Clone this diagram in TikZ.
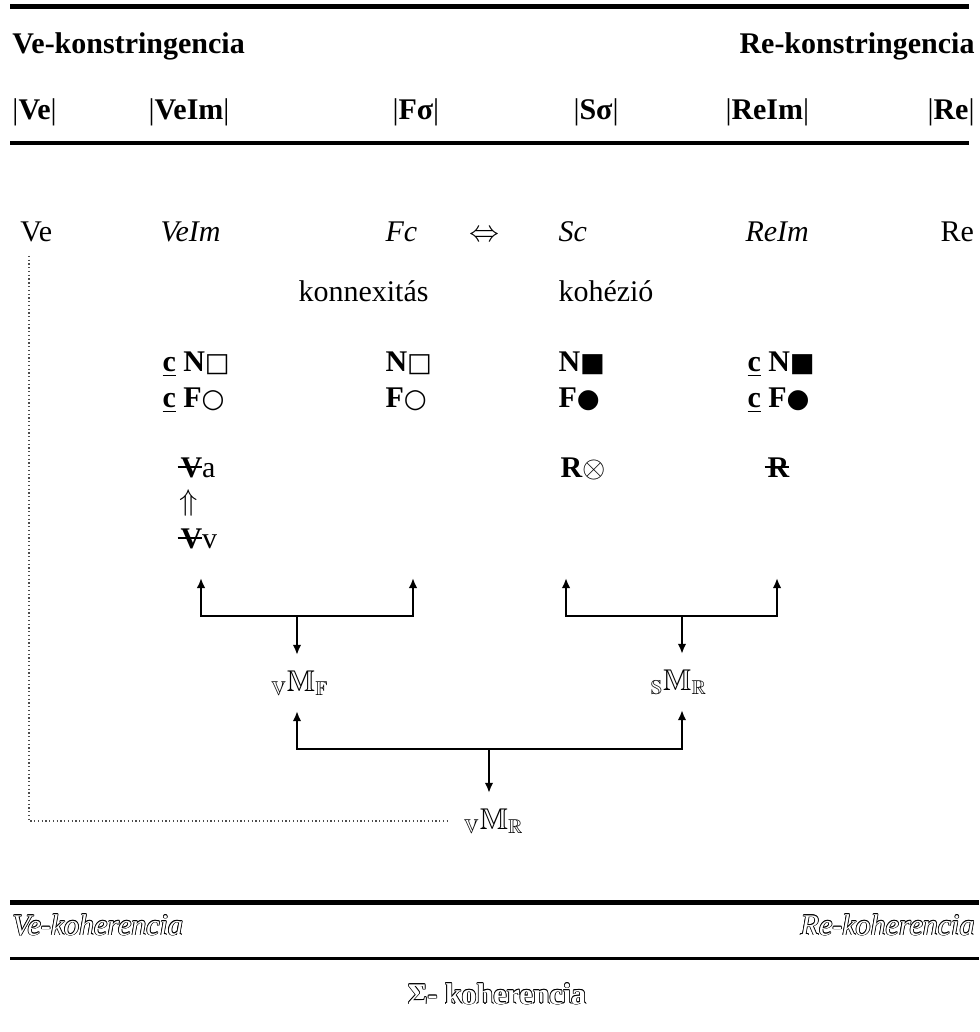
\documentclass[tikz,border=0pt]{standalone}
\usepackage{fontspec}
\setmainfont{Liberation Serif}
\newfontfamily\symfont{DejaVu Sans}
\usepackage{amssymb}
\usetikzlibrary{arrows.meta}

\newcommand{\ulc}{\underline{\textbf{c}}}
\newcommand{\sym}[1]{{\symfont\fontsize{10.5}{12}\selectfont #1}}
\newsavebox{\strkbox}
\newcommand{\strk}[1]{\sbox{\strkbox}{\textbf{#1}}%
  \rlap{\kern-0.1em\rule[0.3em]{\dimexpr\wd\strkbox+0.1em\relax}{0.07em}}\usebox{\strkbox}}
% outlined label: name, position, anchor, text
\newcommand{\hollowtext}[4]{%
  \foreach \dx/\dy [count=\k] in {0.3/0,-0.3/0,0/0.3,0/-0.3,0.21/0.21,-0.21/0.21,0.21/-0.21,-0.21/-0.21}
    \node[txt, anchor=#3, xshift=\dx pt, yshift=\dy pt] (#1-\k) at #2 {#4};
  \node[txt, anchor=#3, text=white] (#1) at #2 {#4};}

\begin{document}
\begin{tikzpicture}[x=0.4pt, y=-0.4pt, >={Latex[length=4pt,width=3.4pt]},
    txt/.style={inner sep=0pt, anchor=base west, font=\fontsize{12}{14}\selectfont},
    txtr/.style={txt, anchor=base east},
    mset/.style={inner sep=6pt, font=\fontsize{12}{14}\selectfont},
    bar/.style={line width=#1}, bar/.default=2pt,
    link/.style={->, line width=0.8pt},
    fork/.style={<->, line width=0.8pt, line join=miter},
    guide/.style={densely dotted, gray!60!black, line width=0.5pt}]
    \useasboundingbox (0,0) rectangle (979,1032);

    % header
    \draw[bar=2pt] (10,7) -- (969,7);
    \node[txt] (vekon) at (12,54) {\textbf{Ve-konstringencia}};
    \node[txtr] (rekon) at (975,54) {\textbf{Re-konstringencia}};

    \node[txt] (hVe) at (12,120) {|\textbf{Ve}|};
    \node[txt] (hVeIm) at (148,120) {|\textbf{VeIm}|};
    \node[txt] (hFs) at (392,120) {|\textbf{Fσ}|};
    \node[txt] (hSs) at (573,120) {|\textbf{Sσ}|};
    \node[txt] (hReIm) at (725,120) {|\textbf{ReIm}|};
    \node[txtr] (hRe) at (975,120) {|\textbf{Re}|};
    \draw[bar=1.8pt] (10,143) -- (969,143);

    % levels
    \node[txt] (ve) at (20,242) {Ve};
    \node[txt] (veim) at (160,242) {\textit{VeIm}};
    \node[txt] (fc) at (385,242) {\textit{Fc}};
    \node[txt, anchor=center] (eqv) at (484,236) {$\Leftrightarrow$};
    \node[txt] (sc) at (558,242) {\textit{Sc}};
    \node[txt] (reim) at (745,242) {\textit{ReIm}};
    \node[txt] (re) at (940,242) {Re};

    \node[txt] (konn) at (298,301) {konnexitás};
    \node[txt] (koh) at (558,301) {kohézió};

    \node[txt] (cNo) at (162,371) {\ulc\ \textbf{N}\sym{□}};
    \node[txt] (No) at (385,371) {\textbf{N}\sym{□}};
    \node[txt] (Nf) at (558,371) {\textbf{N}\sym{■}};
    \node[txt] (cNf) at (747,371) {\ulc\ \textbf{N}\sym{■}};
    \node[txt] (cFo) at (162,407) {\ulc\ \textbf{F}\sym{○}};
    \node[txt] (Fo) at (385,407) {\textbf{F}\sym{○}};
    \node[txt] (Ff) at (558,407) {\textbf{F}\sym{●}};
    \node[txt] (cFf) at (747,407) {\ulc\ \textbf{F}\sym{●}};

    \node[txt] (Va) at (180,477) {\strk{V}a};
    \node[txt, anchor=center] (impl) at (189,503) {$\Uparrow$};
    \node[txt] (Vv) at (180,548) {\strk{V}v};
    \node[txt] (Rx) at (560,477) {\textbf{R}$\otimes$};
    \node[txt] (Rs) at (767,477) {\strk{R}};

    % forks
    \node[mset] (mF) at (300,683) {${}_{\mathbb{V}}\mathbb{M}_{\mathbb{F}}$};
    \node[mset] (mR) at (679,682) {${}_{\mathbb{S}}\mathbb{M}_{\mathbb{R}}$};
    \node[mset] (mVR) at (494,821) {${}_{\mathbb{V}}\mathbb{M}_{\mathbb{R}}$};

    \coordinate (f1a) at (201,578);
    \coordinate (f1b) at (201,616);
    \coordinate (f1c) at (413,616);
    \coordinate (f1d) at (413,578);
    \coordinate (f1m) at (297,616);
    \draw[fork] (f1a) -- (f1b) -- (f1c) -- (f1d);
    \draw[link] (f1m) -- (f1m |- mF.north);

    \coordinate (f2a) at (566,578);
    \coordinate (f2b) at (566,616);
    \coordinate (f2c) at (777,616);
    \coordinate (f2d) at (777,578);
    \coordinate (f2m) at (682,616);
    \draw[fork] (f2a) -- (f2b) -- (f2c) -- (f2d);
    \draw[link] (f2m) -- (f2m |- mR.north);

    \coordinate (f3b) at (297,749);
    \coordinate (f3c) at (682,749);
    \coordinate (f3m) at (489,749);
    \draw[fork] (f3b |- mF.south) -- (f3b) -- (f3c) -- (f3c |- mR.south);
    \draw[link] (f3m) -- (f3m |- mVR.north);

    \coordinate (d0) at (29,256);
    \draw[guide] (d0) |- (mVR.west);

    % footer
    \draw[bar=2pt] (10,902) -- (979,902);
    \hollowtext{vecoh}{(12,935)}{base west}{\itshape Ve-koherencia}
    \hollowtext{recoh}{(975,935)}{base east}{\itshape Re-koherencia}
    \draw[bar=1.2pt] (10,958) -- (979,958);
    \hollowtext{sumcoh}{(497,1004)}{base}{\bfseries Σ- koherencia}
\end{tikzpicture}
\end{document}
